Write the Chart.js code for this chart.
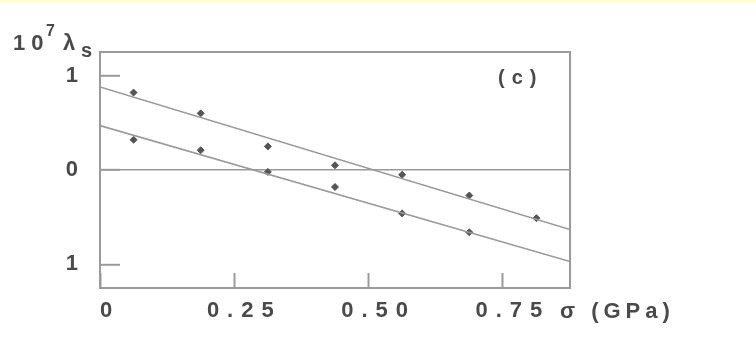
<!DOCTYPE html>
<html>
<head>
<meta charset="utf-8">
<script src="https://cdn.jsdelivr.net/npm/chart.js@4/dist/chart.umd.min.js"></script>
<style>
  html, body { margin: 0; padding: 0; background: #fff; }
  canvas { display: block; }
</style>
</head>
<body>
<canvas id="myChart" width="756" height="359"></canvas>
<script>
// stress values of the measured points (GPa)
const sigmaUpper = [0.0625, 0.1875, 0.3125, 0.4375, 0.5625, 0.6875, 0.8125];
const sigmaLower = [0.0625, 0.1875, 0.3125, 0.4375, 0.5625, 0.6875];
// 10^7 λs readings
const lambdaUpper = [0.82, 0.60, 0.25, 0.05, -0.05, -0.27, -0.51];
const lambdaLower = [0.32, 0.21, -0.02, -0.18, -0.46, -0.66];
// straight fit lines (ends)
const fitSigma = [0, 0.875];
const fitUpper = [0.88, -0.63];
const fitLower = [0.47, -0.97];
// axis ticks
const xTickValues = [0, 0.25, 0.5, 0.75];
const xTickLabels = ['0', '0.25', '0.50', '0.75'];
const yTickValues = [-1, 0, 1];
const yTickLabels = ['1', '0', '1'];

const ink = '#4a4a4a';
const lineGray = '#9a9a9a';
const FONT = '"Liberation Sans", Arial, sans-serif';

const toPoints = (xs, ys) => xs.map((x, i) => ({ x: x, y: ys[i] }));

// yellow strip, frame and the free text of the scan
const scanPlugin = {
  id: 'scanText',
  beforeDraw(chart) {
    const c = chart.ctx;
    c.save();
    c.fillStyle = '#ffffcc';
    c.fillRect(0, 0, chart.width, 2);
    c.fillStyle = '#fffee6';
    c.fillRect(0, 2, chart.width, 1);
    c.restore();
    c.letterSpacing = '8px';
  },
  afterDraw(chart) {
    const c = chart.ctx;
    const a = chart.chartArea;
    c.save();
    c.strokeStyle = lineGray;
    c.lineWidth = 2;
    c.strokeRect(a.left, a.top, a.right - a.left, a.bottom - a.top);

    c.fillStyle = ink;
    c.textAlign = 'left';
    c.textBaseline = 'alphabetic';
    c.letterSpacing = '6px';
    c.font = 'bold 22px ' + FONT;
    c.fillText('10', 13, 50);
    c.letterSpacing = '0px';
    c.font = 'bold 16px ' + FONT;
    c.fillText('7', 46, 36);
    c.font = 'bold 22px ' + FONT;
    c.fillText('λ', 63, 50);
    c.font = 'bold 20px ' + FONT;
    c.fillText('s', 81, 57);

    c.letterSpacing = '7px';
    c.font = 'bold 20px ' + FONT;
    c.fillText('(c)', 498, 84);

    c.letterSpacing = '5px';
    c.font = 'bold 22px ' + FONT;
    c.textBaseline = 'middle';
    c.fillText('σ (GPa)', 560, 312);
    c.restore();
  }
};

const ctx = document.getElementById('myChart').getContext('2d');
const myChart = new Chart(ctx, {
  data: {
    datasets: [
      {
        type: 'line',
        data: toPoints(fitSigma, fitUpper),
        borderColor: lineGray,
        borderWidth: 1.6,
        pointRadius: 0
      },
      {
        type: 'line',
        data: toPoints(fitSigma, fitLower),
        borderColor: lineGray,
        borderWidth: 1.6,
        pointRadius: 0
      },
      {
        type: 'scatter',
        data: toPoints(sigmaUpper, lambdaUpper),
        pointStyle: 'rectRot',
        pointRadius: 3.5,
        backgroundColor: '#555',
        borderColor: '#555',
        borderWidth: 1
      },
      {
        type: 'scatter',
        data: toPoints(sigmaLower, lambdaLower),
        pointStyle: 'rectRot',
        pointRadius: 3.5,
        backgroundColor: '#555',
        borderColor: '#555',
        borderWidth: 1
      }
    ]
  },
  options: {
    responsive: false,
    animation: false,
    devicePixelRatio: 1,
    layout: { padding: { left: 0, top: 52, right: 186, bottom: 0 } },
    plugins: {
      legend: { display: false },
      tooltip: { enabled: false }
    },
    scales: {
      x: {
        type: 'linear',
        min: 0,
        max: 0.875,
        afterFit: (scale) => { scale.height = 71; },
        afterBuildTicks: (scale) => { scale.ticks = xTickValues.map(v => ({ value: v })); },
        ticks: {
          callback: (v) => xTickLabels[xTickValues.indexOf(v)],
          color: ink,
          font: { size: 22, family: FONT, weight: 'bold' },
          padding: 25,
          labelOffset: 10,
          maxRotation: 0
        },
        grid: {
          drawOnChartArea: false,
          tickLength: -15,
          tickColor: lineGray,
          tickWidth: 2
        },
        border: { color: lineGray, width: 2 }
      },
      y: {
        type: 'linear',
        min: -1.25,
        max: 1.25,
        afterFit: (scale) => { scale.width = 100; },
        afterBuildTicks: (scale) => { scale.ticks = yTickValues.map(v => ({ value: v })); },
        ticks: {
          callback: (v) => yTickLabels[yTickValues.indexOf(v)],
          color: ink,
          font: { size: 22, family: FONT, weight: 'bold' },
          padding: 34
        },
        grid: {
          color: (c) => (c.tick && c.tick.value === 0 ? lineGray : 'rgba(0,0,0,0)'),
          lineWidth: 1.6,
          tickLength: -20,
          tickColor: lineGray,
          tickWidth: 2
        },
        border: { color: lineGray, width: 2 }
      }
    }
  },
  plugins: [scanPlugin]
});
</script>
</body>
</html>
